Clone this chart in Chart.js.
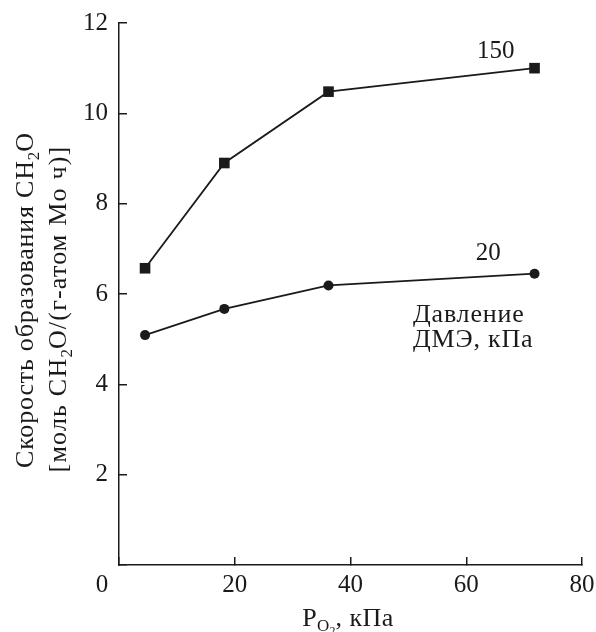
<!DOCTYPE html>
<html>
<head>
<meta charset="utf-8">
<script src="https://cdn.jsdelivr.net/npm/chart.js@4/dist/chart.umd.min.js"></script>
<style>
  html, body { margin: 0; padding: 0; background: #ffffff; }
  #wrap { width: 596px; height: 632px; }
</style>
</head>
<body>
<div id="wrap"><canvas id="c" width="596" height="632"></canvas></div>
<script>
// ---- data ----
const oxygenPressure = [4.5, 18.2, 36.2, 71.8];          // P_O2, kPa
const rateDme150 = [6.57, 8.90, 10.48, 11.00];           // DME pressure 150 kPa
const rateDme20  = [5.09, 5.67, 6.19, 6.45];             // DME pressure 20 kPa
const xTicks = [0, 20, 40, 60, 80];
const yTicks = [2, 4, 6, 8, 10, 12];
const seriesNames = ['150', '20'];

const FONT = "'Liberation Serif', 'Times New Roman', serif";
const INK = '#1a1a1a';

function pts(xs, ys) { return xs.map((x, i) => ({ x: x, y: ys[i] })); }

function setSpacing(ctx, sp) {
  if ('letterSpacing' in ctx) ctx.letterSpacing = (sp || 0) + 'px';
}
function measureRuns(ctx, runs, sp) {
  let w = 0;
  runs.forEach(r => {
    ctx.font = r.size + 'px ' + FONT;
    setSpacing(ctx, r.size >= 20 ? sp : 0);
    w += ctx.measureText(r.t).width;
  });
  return w;
}
function drawRuns(ctx, runs, x, y, align, sp) {
  const w = measureRuns(ctx, runs, sp);
  let cx = align === 'center' ? x - w / 2 : (align === 'right' ? x - w : x);
  ctx.textBaseline = 'alphabetic';
  ctx.textAlign = 'left';
  runs.forEach(r => {
    ctx.font = r.size + 'px ' + FONT;
    setSpacing(ctx, r.size >= 20 ? sp : 0);
    ctx.fillText(r.t, cx, y + (r.dy || 0));
    cx += ctx.measureText(r.t).width;
  });
  setSpacing(ctx, 0);
}

const annotations = {
  id: 'annotations',
  afterDraw(chart) {
    const ctx = chart.ctx;
    const xs = chart.scales.x, ys = chart.scales.y;
    ctx.save();
    ctx.fillStyle = INK;
    drawRuns(ctx, [{ t: seriesNames[0], size: 25 }], xs.getPixelForValue(65.1), ys.getPixelForValue(11.22), 'center', 0);
    drawRuns(ctx, [{ t: seriesNames[1], size: 25 }], xs.getPixelForValue(63.8), ys.getPixelForValue(6.75), 'center', 0);
    drawRuns(ctx, [{ t: 'Давление', size: 26 }], xs.getPixelForValue(50.8), ys.getPixelForValue(5.38), 'left', 0.8);
    drawRuns(ctx, [{ t: 'ДМЭ, кПа', size: 26 }], xs.getPixelForValue(50.8), ys.getPixelForValue(4.83), 'left', 0.8);

    ctx.font = '25px ' + FONT;
    ctx.textAlign = 'center';
    ctx.textBaseline = 'middle';
    ctx.fillText('0', xs.getPixelForValue(0) - 17, 585);

    drawRuns(ctx, [
      { t: 'P', size: 26 },
      { t: 'O', size: 17, dy: 5 },
      { t: '2', size: 12, dy: 9 },
      { t: ', кПа', size: 26 }
    ], 348, 626, 'center', 0.5);

    ctx.save();
    ctx.translate(33, 300);
    ctx.rotate(-Math.PI / 2);
    drawRuns(ctx, [
      { t: 'Скорость образования CH', size: 26 },
      { t: '2', size: 17, dy: 6 },
      { t: 'O', size: 26 }
    ], 0, 0, 'center', 0.8);
    ctx.restore();
    ctx.save();
    ctx.translate(66, 309);
    ctx.rotate(-Math.PI / 2);
    drawRuns(ctx, [
      { t: '[моль CH', size: 26 },
      { t: '2', size: 17, dy: 6 },
      { t: 'O/(г-атом Mo ч)]', size: 26 }
    ], 0, 0, 'center', 1.2);
    ctx.restore();
    ctx.restore();
  }
};

new Chart(document.getElementById('c'), {
  type: 'scatter',
  data: {
    datasets: [
      {
        label: seriesNames[0],
        data: pts(oxygenPressure, rateDme150),
        showLine: true,
        borderColor: INK,
        borderWidth: 1.8,
        backgroundColor: INK,
        pointStyle: 'rect',
        pointRadius: 7.5,
        pointHoverRadius: 7.5,
        pointBorderWidth: 0,
        tension: 0
      },
      {
        label: seriesNames[1],
        data: pts(oxygenPressure, rateDme20),
        showLine: true,
        borderColor: INK,
        borderWidth: 1.8,
        backgroundColor: INK,
        pointStyle: 'circle',
        pointRadius: 5,
        pointHoverRadius: 5,
        pointBorderWidth: 0,
        tension: 0
      }
    ]
  },
  options: {
    responsive: false,
    animation: false,
    devicePixelRatio: 1,
    layout: { padding: { left: 0, top: 23, right: 14, bottom: 0 } },
    plugins: { legend: { display: false }, tooltip: { enabled: false } },
    scales: {
      x: {
        type: 'linear',
        min: 0, max: 80,
        afterFit(scale) {
          scale.height = 67;
          scale.paddingLeft = 0; scale.paddingRight = 0;
          scale.paddingTop = 0; scale.paddingBottom = 0;
        },
        afterBuildTicks(scale) { scale.ticks = xTicks.map(v => ({ value: v })); },
        ticks: {
          color: INK,
          font: { family: FONT, size: 25 },
          padding: 13,
          maxRotation: 0,
          autoSkip: false,
          callback: v => (v === 0 ? '' : String(v))
        },
        grid: { drawOnChartArea: false, drawTicks: true, tickLength: -8, color: INK, lineWidth: 1.5 },
        border: { display: true, color: INK, width: 1.5 }
      },
      y: {
        type: 'linear',
        min: 0, max: 12,
        afterFit(scale) {
          scale.width = 119;
          scale.paddingLeft = 0; scale.paddingRight = 0;
          scale.paddingTop = 0; scale.paddingBottom = 0;
        },
        afterBuildTicks(scale) { scale.ticks = [0].concat(yTicks).map(v => ({ value: v })); },
        ticks: {
          color: INK,
          font: { family: FONT, size: 25 },
          padding: 19,
          autoSkip: false,
          callback: v => (v === 0 ? '' : String(v))
        },
        grid: { drawOnChartArea: false, drawTicks: true, tickLength: -8, color: INK, lineWidth: 1.5 },
        border: { display: true, color: INK, width: 1.5 }
      }
    }
  },
  plugins: [annotations]
});
</script>
</body>
</html>
